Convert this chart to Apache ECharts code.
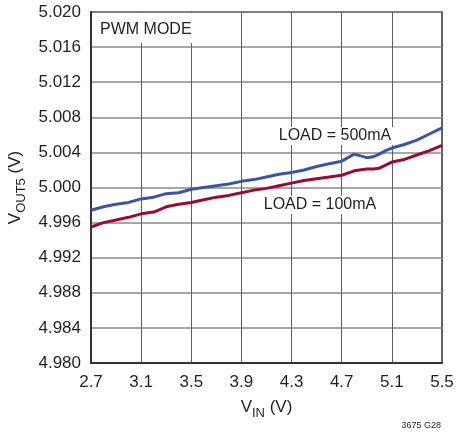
<!DOCTYPE html>
<html>
<head>
<meta charset="utf-8">
<script src="https://cdn.jsdelivr.net/npm/echarts@6/dist/echarts.min.js"></script>
<style>
html,body{margin:0;padding:0;background:#fff;}
#chart{width:456px;height:435px;}
</style>
</head>
<body>
<div id="chart"></div>
<script>
// ---- data ----
const X_MIN = 2.7, X_MAX = 5.5, X_STEP = 0.4;
const Y_MIN = 4.980, Y_MAX = 5.020, Y_STEP = 0.004;

const vin500 = [2.7, 2.8, 2.9, 3.0, 3.1, 3.2, 3.3, 3.4, 3.5, 3.6, 3.7, 3.8, 3.9, 4.0, 4.1, 4.2, 4.3, 4.4, 4.5, 4.6, 4.7, 4.75, 4.8, 4.85, 4.9, 4.95, 5.0, 5.05, 5.1, 5.2, 5.3, 5.4, 5.5];
const vout500 = [4.9974, 4.9978, 4.9981, 4.9983, 4.9987, 4.9989, 4.9993, 4.9994, 4.9998, 5.0000, 5.0002, 5.0004, 5.0007, 5.0009, 5.0012, 5.0015, 5.0017, 5.0020, 5.0024, 5.0027, 5.0030, 5.0034, 5.0038, 5.0036, 5.0034, 5.0035, 5.0038, 5.0042, 5.0045, 5.0049, 5.0054, 5.0061, 5.0068];

const vin100 = [2.7, 2.8, 2.9, 3.0, 3.1, 3.2, 3.3, 3.4, 3.5, 3.6, 3.7, 3.8, 3.9, 4.0, 4.1, 4.2, 4.3, 4.4, 4.5, 4.6, 4.7, 4.8, 4.9, 4.95, 5.0, 5.1, 5.2, 5.3, 5.4, 5.5];
const vout100 = [4.9955, 4.9960, 4.9963, 4.9966, 4.9970, 4.9972, 4.9978, 4.9981, 4.9983, 4.9986, 4.9989, 4.9991, 4.9994, 4.9997, 4.9999, 5.0002, 5.0005, 5.0008, 5.0010, 5.0012, 5.0014, 5.0019, 5.0021, 5.0021, 5.0022, 5.0029, 5.0032, 5.0037, 5.0042, 5.0048];

const seriesNames = ['LOAD = 500mA', 'LOAD = 100mA'];
const modeLabel = 'PWM MODE';
const figLabel = '3675 G28';

// ---- chart ----
const FONT = "'Liberation Sans', Arial, sans-serif";
const TXT = '#231f20';
const toPts = (xs, ys) => xs.map((x, i) => [+(x - X_MIN).toFixed(4), ys[i]]);
const nameRich = {
  v: {fontFamily: FONT, fontSize: 17, color: TXT, lineHeight: 20, verticalAlign: 'top'},
  s: {fontFamily: FONT, fontSize: 13, color: TXT, lineHeight: 21, verticalAlign: 'bottom'}
};

const chart = echarts.init(document.getElementById('chart'), null, {renderer: 'canvas'});
chart.setOption({
  animation: false,
  backgroundColor: '#fff',
  grid: {left: 91, right: 14, top: 12, bottom: 72, outerBoundsMode: 'none', containLabel: false,
    show: true, borderColor: '#333', borderWidth: 1.5, backgroundColor: 'transparent'},
  xAxis: {
    type: 'value', min: 0, max: +(X_MAX - X_MIN).toFixed(4), interval: X_STEP,
    axisLine: {show: true, lineStyle: {color: '#333', width: 2}},
    axisTick: {show: false},
    splitLine: {show: true, lineStyle: {color: '#5f5f5f', width: 1}},
    axisLabel: {margin: 11, color: TXT, fontFamily: FONT, fontSize: 17,
      formatter: v => (v + X_MIN).toFixed(1)},
    name: '{v|V}{s|IN}{v| (V)}', nameLocation: 'middle', nameGap: 36,
    nameTextStyle: {fontFamily: FONT, color: TXT, rich: nameRich}
  },
  yAxis: {
    type: 'value', min: Y_MIN, max: Y_MAX, interval: Y_STEP,
    axisLine: {show: true, lineStyle: {color: '#333', width: 2}},
    axisTick: {show: false},
    splitLine: {show: true, lineStyle: {color: '#8a8a8a', width: 1.5}},
    axisLabel: {margin: 10, color: TXT, fontFamily: FONT, fontSize: 17,
      formatter: v => v.toFixed(3)},
    name: '{v|V}{s|OUT5}{v| (V)}', nameLocation: 'middle', nameGap: 56, nameRotate: 90,
    nameTextStyle: {fontFamily: FONT, color: TXT, rich: nameRich}
  },
  series: [
    {name: seriesNames[0], type: 'line', data: toPts(vin500, vout500), showSymbol: false,
      lineStyle: {color: '#3b55a5', width: 3}, z: 3},
    {name: seriesNames[1], type: 'line', data: toPts(vin100, vout100), showSymbol: false,
      lineStyle: {color: '#9b0a32', width: 3}, z: 3}
  ],
  graphic: [
    {type: 'rect', left: 92, top: 13, shape: {width: 100, height: 30}, style: {fill: '#fff'}, z: 1},
    {type: 'text', left: 100, top: 22, style: {text: modeLabel, font: "16px " + FONT, fill: TXT}, z: 2},
    {type: 'text', x: 335, y: 136, style: {text: seriesNames[0], font: "16px " + FONT, fill: TXT,
      align: 'center', verticalAlign: 'middle', backgroundColor: '#fff', padding: [1, 2, 1, 2]}, z: 2},
    {type: 'text', x: 320, y: 205, style: {text: seriesNames[1], font: "16px " + FONT, fill: TXT,
      align: 'center', verticalAlign: 'middle', backgroundColor: '#fff', padding: [1, 2, 1, 2]}, z: 2},
    {type: 'text', right: 15, top: 421, style: {text: figLabel, font: "9px " + FONT, fill: TXT}}
  ]
});
</script>
</body>
</html>
